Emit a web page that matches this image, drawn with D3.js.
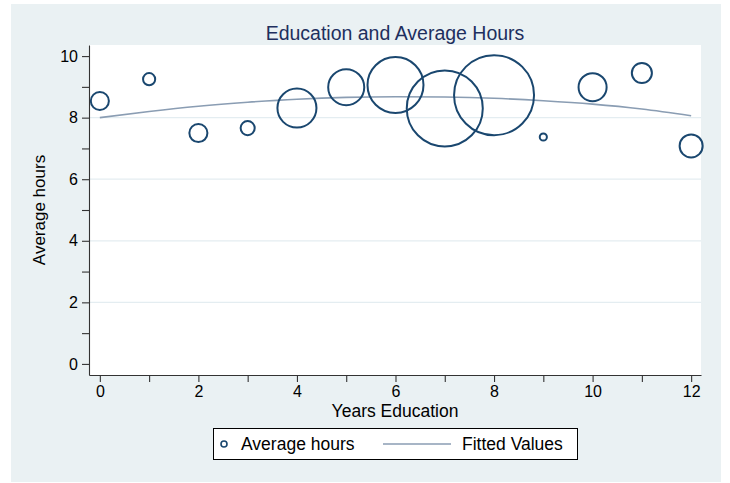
<!DOCTYPE html>
<html>
<head>
<meta charset="utf-8">
<script src="https://cdn.jsdelivr.net/npm/d3@7"></script>
<style>
  body { margin: 0; background: #fff; }
  svg { font-family: Arial, "Liberation Sans", sans-serif; }
</style>
</head>
<body>
<div id="chart"></div>
<script>
// data
const years = [0, 1, 2, 3, 4, 5, 6, 7, 8, 9, 10, 11, 12];
const avgHours = [8.54, 9.25, 7.50, 7.66, 8.31, 8.99, 9.06, 8.30, 8.73, 7.37, 8.99, 9.45, 7.08];
// bubble weights
const weights = [51, 23, 51, 31, 238, 203, 490, 903, 1000, 8, 123, 63, 83];
const fitted = [8.00, 8.20, 8.37, 8.50, 8.60, 8.66, 8.68, 8.67, 8.63, 8.55, 8.44, 8.28, 8.06];
const yTicks = [0, 2, 4, 6, 8, 10];
const yMinor = [1, 3, 5, 7, 9];
const yGrid = [2, 4, 6, 8];

const W = 730, H = 483;
const margin = {top: 45, right: 29, bottom: 108, left: 89};
const width = W - margin.left - margin.right;
const height = H - margin.top - margin.bottom;

const navy = '#1a476f';
const fitCol = '#8a9db3';

const svg = d3.select('#chart').append('svg')
  .attr('width', W)
  .attr('height', H);

// outer graph region
svg.append('rect')
  .attr('x', 11).attr('y', 4)
  .attr('width', 710).attr('height', 478)
  .attr('fill', '#eaf1f3');

const xScale = d3.scaleLinear()
  .domain([-0.22, 12.2])
  .range([0, width]);

const yScale = d3.scaleLinear()
  .domain([-0.36, 10.36])
  .range([height, 0]);

const rScale = d3.scaleSqrt()
  .domain([0, d3.max(weights)])
  .range([0, 40]);

const plotArea = svg.append('g')
  .attr('transform', `translate(${margin.left}, ${margin.top})`);

plotArea.append('rect')
  .attr('width', width)
  .attr('height', height)
  .attr('fill', '#fff');

plotArea.append('g')
  .selectAll('line')
  .data(yGrid)
  .join('line')
    .attr('x1', 0).attr('x2', width)
    .attr('y1', d => yScale(d)).attr('y2', d => yScale(d))
    .attr('stroke', '#e4edf1')
    .attr('stroke-width', 1.2);

// title
svg.append('text')
  .attr('x', margin.left + width / 2)
  .attr('y', 40)
  .attr('text-anchor', 'middle')
  .attr('font-size', 19.5)
  .attr('fill', '#1e2f5e')
  .text('Education and Average Hours');

// y axis
plotArea.append('g')
  .call(d3.axisLeft(yScale).tickValues(yTicks).tickSize(7).tickSizeOuter(0).tickPadding(4));
plotArea.append('g')
  .call(d3.axisLeft(yScale).tickValues(yMinor).tickSize(7).tickSizeOuter(0).tickFormat(''))
  .select('.domain').remove();

// x axis
plotArea.append('g')
  .attr('transform', `translate(0, ${height})`)
  .call(d3.axisBottom(xScale).tickValues(years).tickSize(7).tickSizeOuter(0).tickPadding(4)
    .tickFormat(d => d % 2 === 0 ? d : ''));

plotArea.selectAll('.domain, .tick line')
  .attr('stroke', '#333')
  .attr('stroke-width', 1.1);
plotArea.selectAll('.tick text')
  .attr('font-size', 16)
  .attr('font-family', 'Arial, "Liberation Sans", sans-serif')
  .attr('fill', '#000');

// axis titles
svg.append('text')
  .attr('transform', 'translate(45, 210) rotate(-90)')
  .attr('text-anchor', 'middle')
  .attr('font-size', 17)
  .attr('fill', '#000')
  .text('Average hours');

svg.append('text')
  .attr('x', 395)
  .attr('y', 417)
  .attr('text-anchor', 'middle')
  .attr('font-size', 17.5)
  .attr('fill', '#000')
  .text('Years Education');

// fitted line
const line = d3.line()
  .x((d, i) => xScale(years[i]))
  .y(d => yScale(d))
  .curve(d3.curveMonotoneX);

plotArea.append('path')
  .datum(fitted)
  .attr('d', line)
  .attr('fill', 'none')
  .attr('stroke', fitCol)
  .attr('stroke-width', 1.6);

// bubbles
plotArea.selectAll('circle.bubble')
  .data(years)
  .join('circle')
    .attr('class', 'bubble')
    .attr('cx', d => xScale(d))
    .attr('cy', (d, i) => yScale(avgHours[i]))
    .attr('r', (d, i) => rScale(weights[i]))
    .attr('fill', 'none')
    .attr('stroke', navy)
    .attr('stroke-width', 2);

// legend
const legend = svg.append('g');
legend.append('rect')
  .attr('x', 213.5).attr('y', 428.5)
  .attr('width', 364).attr('height', 31)
  .attr('fill', '#fff')
  .attr('stroke', '#000')
  .attr('stroke-width', 1);
legend.append('circle')
  .attr('cx', 224).attr('cy', 444).attr('r', 3)
  .attr('fill', 'none')
  .attr('stroke', navy)
  .attr('stroke-width', 1.6);
legend.append('text')
  .attr('x', 241).attr('y', 450)
  .attr('font-size', 17.5)
  .text('Average hours');
legend.append('line')
  .attr('x1', 383).attr('x2', 451)
  .attr('y1', 444).attr('y2', 444)
  .attr('stroke', fitCol)
  .attr('stroke-width', 1.6);
legend.append('text')
  .attr('x', 462).attr('y', 450)
  .attr('font-size', 17.5)
  .text('Fitted Values');
</script>
</body>
</html>
